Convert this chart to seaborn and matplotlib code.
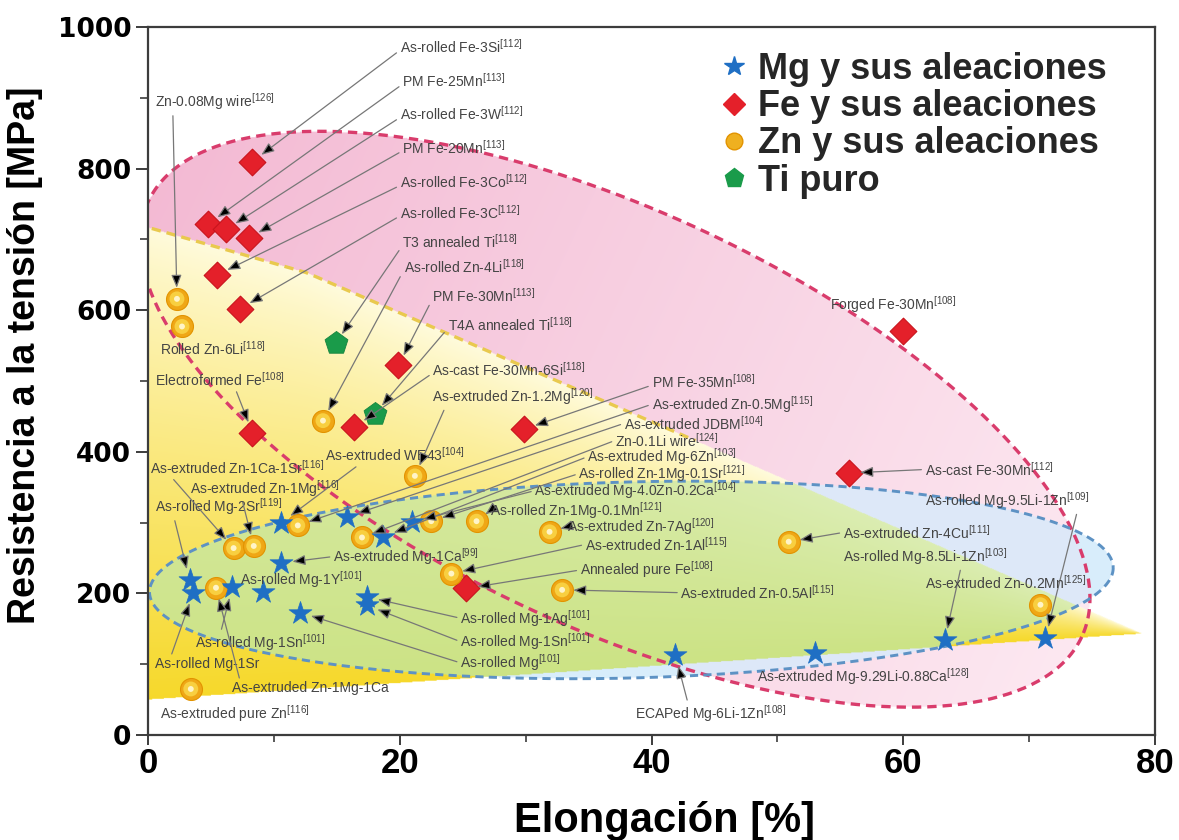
import numpy as np
import pandas as pd
import matplotlib
matplotlib.use("Agg")
import matplotlib.pyplot as plt
import seaborn as sns
from matplotlib.lines import Line2D

sns.set_theme(style="white")
plt.rcParams['font.family'] = ['Liberation Sans', 'DejaVu Sans']
plt.rcParams['mathtext.default'] = 'regular'

# ---------------- data: elongation (%) and tensile strength (MPa) ----------------
mg_names = ["As-rolled Mg-2Sr", "As-rolled Mg-1Sr", "As-rolled Mg-1Sn", "As-rolled Mg-1Y",
            "As-extruded Mg-1Ca", "As-extruded WE43", "As-extruded JDBM", "As-extruded Mg-6Zn",
            "As-extruded Mg-4.0Zn-0.2Ca", "As-rolled Mg", "As-rolled Mg-1Ag", "As-rolled Mg-1Sn",
            "ECAPed Mg-6Li-1Zn", "As-extruded Mg-9.29Li-0.88Ca", "As-rolled Mg-8.5Li-1Zn",
            "As-rolled Mg-9.5Li-1Zn"]
mg_refs = ["119", "", "101", "101", "99", "104", "104", "103", "104", "101", "101", "101",
           "108", "128", "103", "109"]
mg_elong = [3.3, 3.6, 6.7, 9.1, 10.6, 10.6, 15.8, 18.7, 21.0, 12.1, 17.4, 17.4, 41.9, 53.0, 63.3, 71.3]
mg_uts = [219, 201, 209, 202, 243, 300, 308, 280, 301, 173, 195, 183, 113, 116, 134, 137]

fe_names = ["As-rolled Fe-3Si", "PM Fe-25Mn", "As-rolled Fe-3W", "PM Fe-20Mn", "As-rolled Fe-3Co",
            "As-rolled Fe-3C", "PM Fe-30Mn", "Electroformed Fe", "As-cast Fe-30Mn-6Si", "PM Fe-35Mn",
            "Forged Fe-30Mn", "As-cast Fe-30Mn", "Annealed pure Fe"]
fe_refs = ["112", "113", "112", "113", "112", "112", "113", "108", "118", "108", "108", "112", "108"]
fe_elong = [8.3, 4.8, 6.2, 8.0, 5.5, 7.3, 19.9, 8.3, 16.4, 29.9, 60.0, 55.7, 25.3]
fe_uts = [810, 722, 714, 702, 650, 602, 522, 427, 435, 432, 570, 370, 207]

zn_names = ["Zn-0.08Mg wire", "Rolled Zn-6Li", "As-rolled Zn-4Li", "As-extruded Zn-1.2Mg",
            "As-extruded Zn-0.5Mg", "As-extruded Zn-1Ca-1Sr", "As-extruded Zn-1Mg", "Zn-0.1Li wire",
            "As-rolled Zn-1Mg-0.1Sr", "As-rolled Zn-1Mg-0.1Mn", "As-extruded Zn-7Ag",
            "As-extruded Zn-1Al", "As-extruded Zn-1Mg-1Ca", "As-extruded Zn-0.5Al",
            "As-extruded Zn-4Cu", "As-extruded Zn-0.2Mn", "As-extruded pure Zn"]
zn_refs = ["126", "118", "118", "120", "115", "116", "116", "124", "121", "121", "120", "115", "",
           "115", "111", "125", "116"]
zn_elong = [2.3, 2.7, 13.9, 21.2, 11.9, 6.8, 8.4, 17.0, 22.5, 26.1, 31.9, 24.1, 5.4, 32.9, 50.9, 70.9, 3.4]
zn_uts = [616, 577, 444, 366, 296, 264, 267, 279, 302, 302, 287, 228, 208, 205, 273, 184, 65]

ti_names = ["T3 annealed Ti", "T4A annealed Ti"]
ti_refs = ["118", "118"]
ti_elong = [14.9, 18.0]
ti_uts = [553, 453]

legend_labels = ["Mg y sus aleaciones", "Fe y sus aleaciones", "Zn y sus aleaciones", "Ti puro"]

# ---------------- figure ----------------
W, H = 1179, 840
fig = plt.figure(figsize=(W / 100, H / 100), dpi=100)
ax_l, ax_b, ax_w, ax_h = 148, 105, 1007, 708
ax = fig.add_axes([ax_l / W, ax_b / H, ax_w / W, ax_h / H])
X_MAX, Y_MAX = 80, 1000
kx = ax_w / X_MAX      # pixels per % elongation
ky = ax_h / Y_MAX      # pixels per MPa

# ---------------- shaded material regions ----------------
nx, ny = 1200, 900
GX, GY = np.meshgrid(np.linspace(0, X_MAX, nx), np.linspace(0, Y_MAX, ny))


def ellipse_coords(cx, cy, ang):
    r = np.deg2rad(ang)
    dx = (GX - cx) * kx
    dy = -(GY - cy) * ky
    u = dx * np.cos(r) + dy * np.sin(r)
    v = -dx * np.sin(r) + dy * np.cos(r)
    return u, v


def ellipse_outline(cx, cy, a, b, ang, n=400):
    r = np.deg2rad(ang)
    t = np.linspace(0, 2 * np.pi, n)
    u, v = a * np.cos(t), b * np.sin(t)
    dx = u * np.cos(r) - v * np.sin(r)
    dy = u * np.sin(r) + v * np.cos(r)
    return cx + dx / kx, cy - dy / ky


fe_region = dict(cx=37.1, cy=446, a=515, b=208, ang=25)
mg_region = dict(cx=38.4, cy=219, a=482, b=98, ang=-1.5)
zn_top_x, zn_top_y = [-0.6, 12.6, 79.0], [720, 653, 143]
zn_bot_x, zn_bot_y = [-0.6, 79.0], [49, 143]

u, v = ellipse_coords(fe_region['cx'], fe_region['cy'], fe_region['ang'])
in_fe = (u / fe_region['a']) ** 2 + (v / fe_region['b']) ** 2 <= 1
fe_t = np.clip((u / fe_region['a'] + 1) / 2, 0, 1)[..., None]

u2, v2 = ellipse_coords(mg_region['cx'], mg_region['cy'], mg_region['ang'])
in_mg = (u2 / mg_region['a']) ** 2 + (v2 / mg_region['b']) ** 2 <= 1

top = np.interp(GX, zn_top_x, zn_top_y)
bot = np.interp(GX, zn_bot_x, zn_bot_y)
zn_t = (top - GY) / np.maximum(top - bot, 1e-6)
in_zn = (zn_t >= 0) & (zn_t <= 1) & (GX <= zn_top_x[-1])
zn_t = np.clip(zn_t, 0, 1)[..., None]

img = np.ones((ny, nx, 3))
pink_a, pink_b = np.array([0.955, 0.73, 0.83]), np.array([0.99, 0.91, 0.945])
img = np.where(in_fe[..., None], pink_a + (pink_b - pink_a) * fe_t, img)
yel_a, yel_b = np.array([1.0, 0.985, 0.87]), np.array([0.965, 0.85, 0.17])
img = np.where(in_zn[..., None], yel_a + (yel_b - yel_a) * zn_t ** 0.85, img)
grn_a, grn_b = np.array([0.86, 0.93, 0.70]), np.array([0.80, 0.89, 0.52])
img = np.where((in_mg & in_zn)[..., None], grn_a + (grn_b - grn_a) * zn_t, img)
img = np.where((in_mg & ~in_zn & in_fe)[..., None], np.array([0.87, 0.91, 0.975]), img)
img = np.where((in_mg & ~in_zn & ~in_fe)[..., None], np.array([0.85, 0.93, 0.985]), img)

ax.imshow(img, extent=[0, X_MAX, 0, Y_MAX], origin='lower', aspect='auto',
          interpolation='bilinear', zorder=0)

# dashed borders
ex, ey = ellipse_outline(**fe_region)
ax.plot(ex, ey, color='#d93c6c', lw=2.4, dashes=(2.8, 1.8), zorder=1.2)
bx, by = ellipse_outline(**mg_region)
ax.plot(bx, by, color='#5d92c4', lw=2.1, dashes=(2.8, 1.8), zorder=1.2)
lx = np.linspace(0.3, 43.5, 100)
ax.plot(lx, np.interp(lx, zn_top_x, zn_top_y), color='#e9c94e', lw=2.4,
        dashes=(2.8, 1.8), zorder=1.1)

# ---------------- scatter points ----------------
mg_df = pd.DataFrame({"elong": mg_elong, "uts": mg_uts})
fe_df = pd.DataFrame({"elong": fe_elong, "uts": fe_uts})
zn_df = pd.DataFrame({"elong": zn_elong, "uts": zn_uts})
ti_df = pd.DataFrame({"elong": ti_elong, "uts": ti_uts})

sns.scatterplot(data=fe_df, x="elong", y="uts", marker="D", s=185, color="#e4202a",
                edgecolor="#c8141c", linewidth=0.8, ax=ax, zorder=3, legend=False)
sns.scatterplot(data=zn_df, x="elong", y="uts", marker="o", s=250, color="#efa716",
                edgecolor="#e29300", linewidth=0.8, ax=ax, zorder=3, legend=False)
sns.scatterplot(data=zn_df, x="elong", y="uts", marker="o", s=115, color="#f8cf40",
                edgecolor="none", linewidth=0, ax=ax, zorder=3.1, legend=False)
sns.scatterplot(data=zn_df, x="elong", y="uts", marker="o", s=18, color="#fff4c8",
                edgecolor="none", linewidth=0, ax=ax, zorder=3.2, legend=False)
sns.scatterplot(data=mg_df, x="elong", y="uts", marker="*", s=300, color="#1f6fc4",
                edgecolor="#1f6fc4", linewidth=0.5, ax=ax, zorder=3, legend=False)
sns.scatterplot(data=ti_df, x="elong", y="uts", marker="p", s=300, color="#1a9b4a",
                edgecolor="#15843e", linewidth=0.6, ax=ax, zorder=3, legend=False)

# ---------------- annotations ----------------
# (text x, text y, arrow start on text box or None) per point, in the order of the arrays
mg_lab = [(0.55, 322, (0.15, 0)), (0.55, 100, (0.15, 1)), (3.7, 130, (0.2, 1)), (7.3, 219, None),
          (14.7, 252, (0, 0.5)), (14.1, 396, (0.25, 0)), (37.8, 440, (0, 0.5)), (34.9, 393, (0, 0.5)),
          (30.7, 345, (0, 0.5)), (24.8, 102, (0, 0.5)), (24.8, 165, (0, 0.5)), (24.8, 132, (0, 0.5)),
          (38.7, 30, (0.35, 1)), (48.4, 82, None), (55.2, 252, (0.72, 0)), (61.7, 331, (0.93, 0))]
fe_lab = [(20.0, 972, (0, 0.3)), (20.2, 924, (0, 0.3)), (20.0, 877, (0, 0.3)), (20.2, 830, (0, 0.3)),
          (20.0, 781, (0, 0.3)), (20.0, 738, (0, 0.3)), (22.6, 621, (0, 0.3)), (0.55, 502, (0.62, 0)),
          (22.6, 516, (0, 0.3)), (40.0, 499, (0, 0.3)), (54.2, 608, None), (61.7, 375, (0, 0.5)),
          (34.3, 233, (0, 0.5))]
zn_lab = [(0.55, 894, (0.15, 0)), (0.95, 545, None), (20.3, 661, (0, 0.3)), (22.6, 478, (0.08, 0)),
          (40.0, 467, (0, 0.5)), (0.15, 378, (0.12, 0)), (3.3, 348, (0.35, 0)), (37.1, 416, (0, 0.5)),
          (34.2, 369, (0, 0.5)), (27.2, 317, (0, 0.5)), (33.3, 294, (0, 0.5)), (34.7, 269, (0, 0.5)),
          (6.7, 66, (0.05, 1)), (42.3, 201, (0, 0.5)), (55.2, 286, (0, 0.5)), (61.7, 215, None),
          (0.95, 31, None)]
ti_lab = [(20.2, 696, (0, 0.3)), (23.8, 579, (0, 0.3))]

groups = [(mg_names, mg_refs, mg_elong, mg_uts, mg_lab),
          (fe_names, fe_refs, fe_elong, fe_uts, fe_lab),
          (zn_names, zn_refs, zn_elong, zn_uts, zn_lab),
          (ti_names, ti_refs, ti_elong, ti_uts, ti_lab)]

for names, refs, xs, ys, labs in groups:
    for name, ref, x, y, (tx, ty, rel) in zip(names, refs, xs, ys, labs):
        txt = name + (r"$^{[" + ref + "]}$" if ref else "")
        kw = dict(xytext=(tx, ty), textcoords='data', fontsize=10, color='#444444',
                  ha='left', va='center', zorder=4)
        if rel is not None:
            kw['arrowprops'] = dict(arrowstyle='-|>,head_length=0.55,head_width=0.22',
                                    mutation_scale=14, fc='black', ec='#777777', lw=0.9,
                                    shrinkA=0, shrinkB=8, relpos=rel)
        ax.annotate(txt, xy=(x, y), **kw)

# ---------------- axes styling ----------------
ax.set_xlim(0, X_MAX)
ax.set_ylim(0, Y_MAX)
ax.set_xticks([0, 20, 40, 60, 80])
ax.set_xticks([10, 30, 50, 70], minor=True)
ax.set_yticks([0, 200, 400, 600, 800, 1000])
ax.set_yticks([100, 300, 500, 700, 900], minor=True)
for sp in ax.spines.values():
    sp.set_color('#3c3c3c')
    sp.set_linewidth(1.6)
ax.tick_params(axis='x', which='major', direction='out', length=7, width=1.4, color='#3c3c3c',
               pad=1.5, bottom=True)
ax.tick_params(axis='x', which='minor', direction='out', length=5, width=1.2, color='#3c3c3c',
               bottom=True)
ax.tick_params(axis='y', which='major', direction='out', length=9, width=1.4, color='#3c3c3c',
               pad=3, left=True)
ax.tick_params(axis='y', which='minor', direction='out', length=5.5, width=1.2, color='#3c3c3c',
               left=True)
for lab in ax.get_xticklabels():
    lab.set_fontfamily('Liberation Sans')
    lab.set_fontweight('bold')
    lab.set_fontsize(25)
    lab.set_color('black')
for lab in ax.get_yticklabels():
    lab.set_fontfamily('DejaVu Sans')
    lab.set_fontweight('bold')
    lab.set_fontsize(19)
    lab.set_color('black')

ax.set_xlabel("Elongación [%]", fontsize=30, fontweight='bold', color='black')
ax.set_ylabel("Resistencia a la tensión [MPa]", fontsize=27, fontweight='bold', color='black')
ax.xaxis.set_label_coords(0.513, -0.093)
ax.yaxis.set_label_coords(-0.104, 0.537)

handles = [Line2D([0], [0], marker='*', ls='', color='#1f6fc4', markersize=15),
           Line2D([0], [0], marker='D', ls='', color='#e4202a', markersize=11),
           Line2D([0], [0], marker='o', ls='', color='#efb020', markeredgecolor='#e29300',
                  markersize=12),
           Line2D([0], [0], marker='p', ls='', color='#1a9b4a', markersize=14)]
ax.legend(handles, legend_labels, loc='upper left', bbox_to_anchor=(0.548, 0.99),
          frameon=False, handlelength=0.9, handletextpad=0.2, labelspacing=0.06,
          borderpad=0, prop=dict(family='Liberation Sans', weight='bold', size=26))

fig.savefig("out.png", dpi=100)
